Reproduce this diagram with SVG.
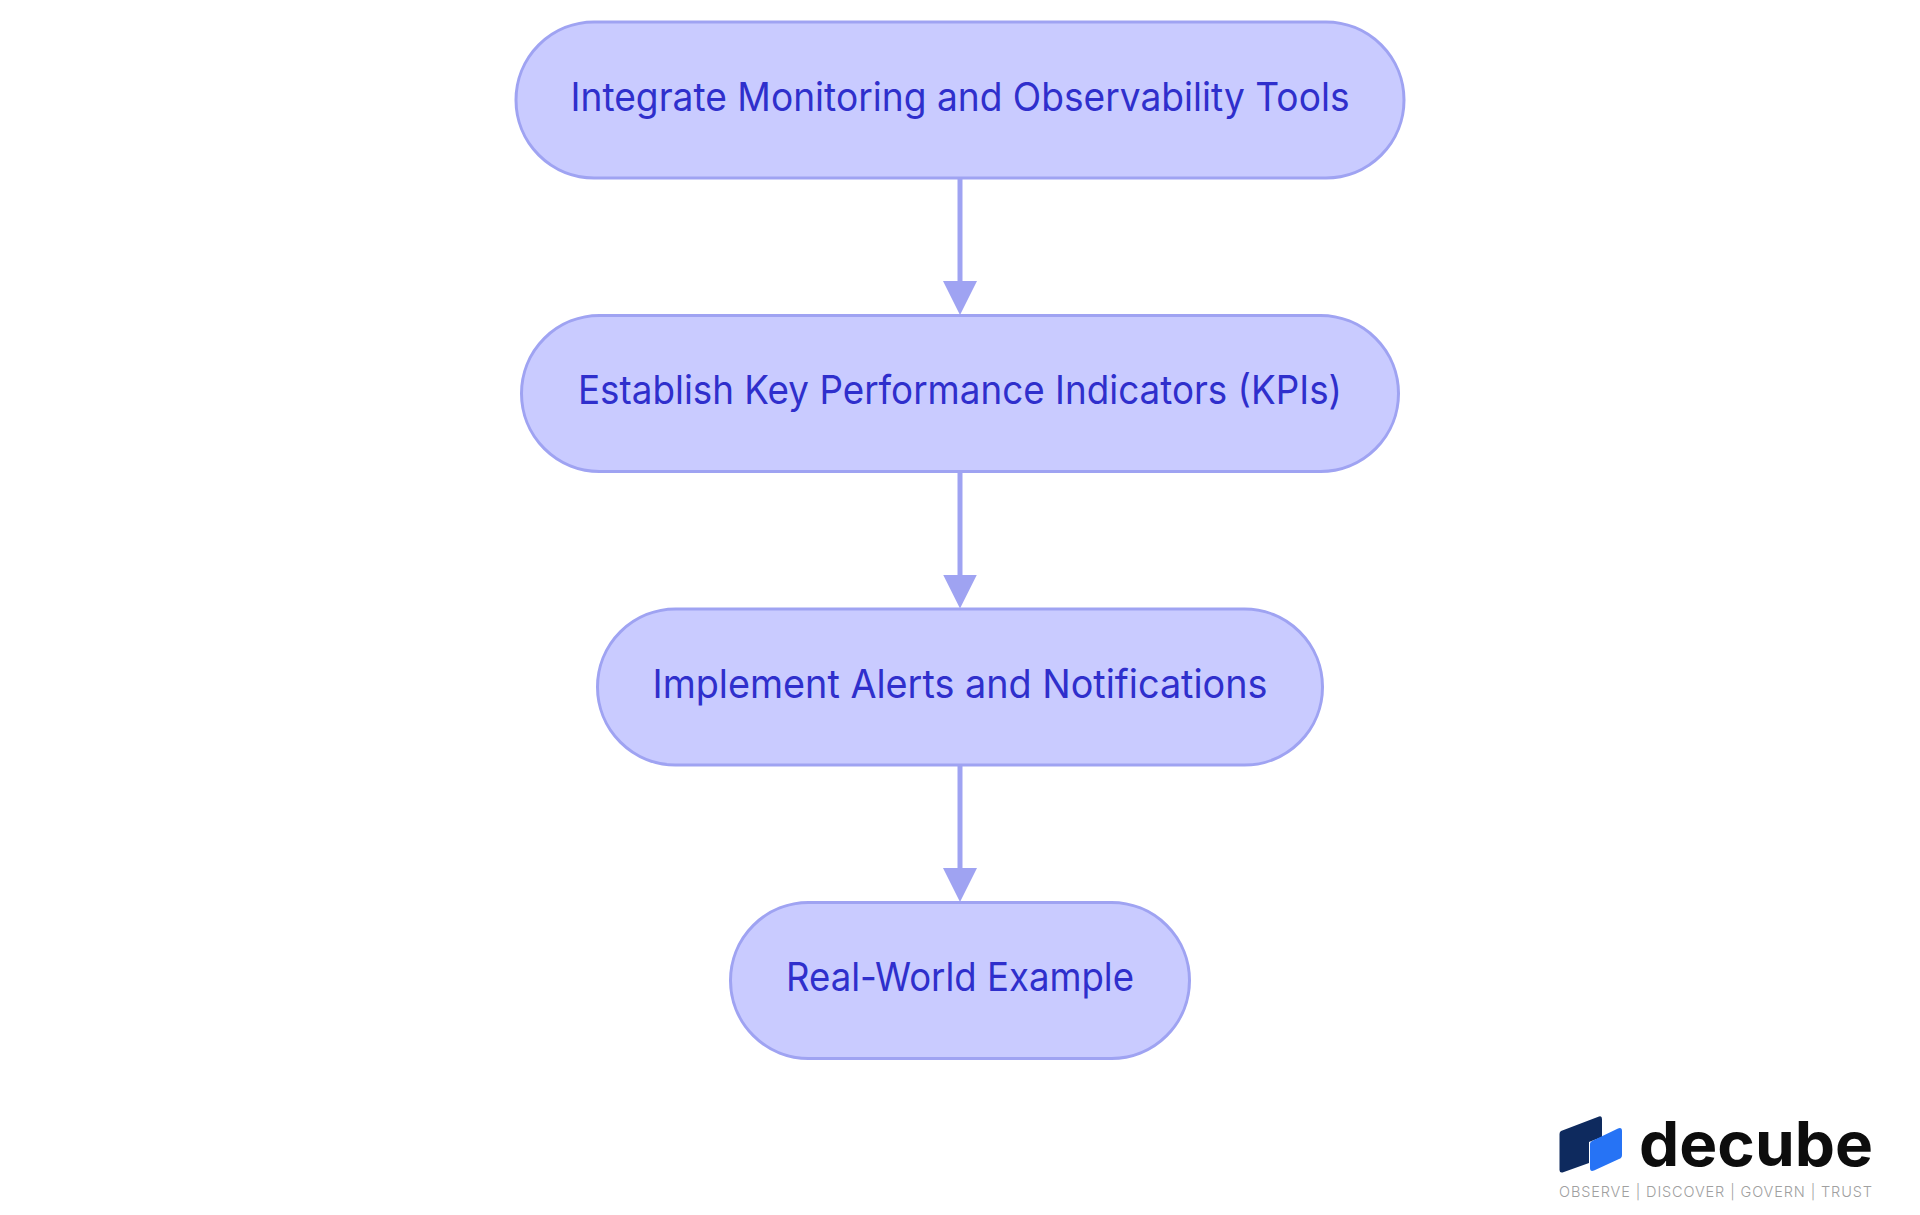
<svg xmlns="http://www.w3.org/2000/svg" width="1920" height="1215" viewBox="0 0 1920 1215">
<style>
.n{fill:#c9cbff;stroke:#9fa3f2;stroke-width:3}
.t{font-family:"Inter","Noto Sans",sans-serif;font-size:39px;fill:#2f2fcc;text-anchor:middle}
.c{stroke:#9fa3f2;stroke-width:5;fill:none}
</style>
<defs><marker id="a" markerUnits="userSpaceOnUse" markerWidth="34" markerHeight="34" refX="9" refY="17" orient="auto"><path d="M0 0L34 17L0 34Z" fill="#9fa3f2"/></marker></defs>
<rect width="1920" height="1215" fill="#fff"/>
<g id="connectors">
<path class="c" d="M960 178V290" marker-end="url(#a)"/>
<path class="c" d="M960 471.500V583.500" marker-end="url(#a)"/>
<path class="c" d="M960 765V877" marker-end="url(#a)"/>
</g>
<g id="n1"><rect class="n" x="516" y="22" width="888" height="156" rx="78"/><text class="t" x="960" y="111" textLength="779" lengthAdjust="spacingAndGlyphs">Integrate Monitoring and Observability Tools</text></g>
<g id="n2"><rect class="n" x="521.500" y="315.500" width="877" height="156" rx="78"/><text class="t" x="960" y="403.500" textLength="764" lengthAdjust="spacingAndGlyphs">Establish Key Performance Indicators (KPIs)</text></g>
<g id="n3"><rect class="n" x="597.500" y="609" width="725" height="156" rx="78"/><text class="t" x="960" y="698" textLength="615" lengthAdjust="spacingAndGlyphs">Implement Alerts and Notifications</text></g>
<g id="n4"><rect class="n" x="730.500" y="902.500" width="459" height="156" rx="78"/><text class="t" x="960" y="990.500" textLength="348" lengthAdjust="spacingAndGlyphs">Real-World Example</text></g>
<g id="logo">
<path d="M1561 1131L1599 1116.500Q1602 1115.500 1602 1119V1137L1589 1142V1163L1562.500 1172.500Q1559.500 1173 1559.500 1170V1134Q1559.500 1132 1561 1131Z" fill="#0e2a5e"/>
<path d="M1592 1141L1618 1128.500Q1622 1127 1622 1131V1155Q1622 1158 1619 1159L1594 1170.500Q1590 1172 1590 1168V1144Q1590 1142 1592 1141Z" fill="#2673f5"/>
<text x="1639" y="1166" font-family="Inter,sans-serif" font-weight="700" font-size="62" fill="#0d0d0d" textLength="234" lengthAdjust="spacingAndGlyphs">decube</text>
<text x="1559" y="1197" font-family="Inter,sans-serif" font-weight="300" font-size="14.500" fill="#a0a0a0" textLength="313">OBSERVE | DISCOVER | GOVERN | TRUST</text>
</g>
</svg>
